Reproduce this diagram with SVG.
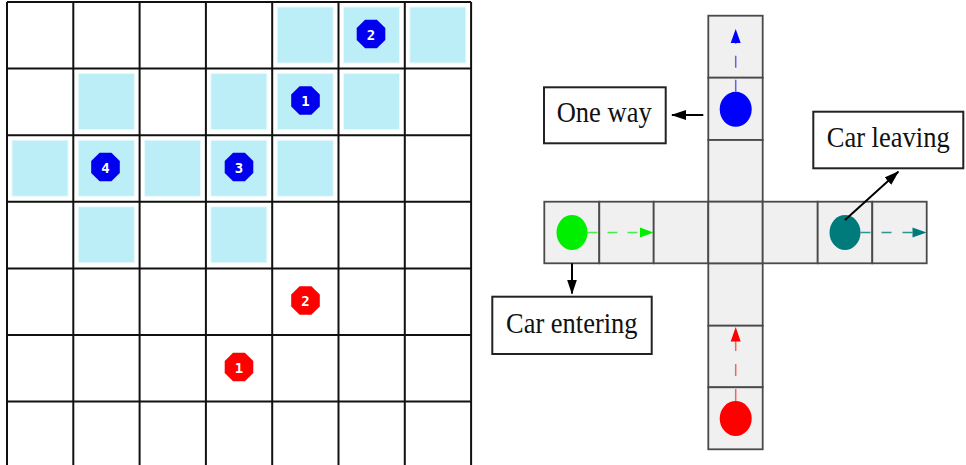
<svg xmlns="http://www.w3.org/2000/svg" width="966" height="465" viewBox="0 0 966 465">
<style>
.cellb{fill:#bbeef6;stroke:#e8f9fc;stroke-width:1}
.grid{stroke:#111;stroke-width:2;fill:none}
.oct-b{fill:#0000ee}
.oct-r{fill:#ff0000}
.octt{fill:#fff;font-family:"DejaVu Sans Mono",monospace;font-weight:bold;font-size:14px;text-anchor:middle}
.road{fill:#f0f0f0;stroke:#4a4a4a;stroke-width:1.8}
.lbl rect{fill:#fff;stroke:#222;stroke-width:2}
.lbl text{font-family:"Liberation Serif",serif;font-size:30px;fill:#111}
.blk{stroke:#000;stroke-width:2;fill:none}
</style>
<defs>
<polygon id="oct" points="14.3,5.9 5.9,14.3 -5.9,14.3 -14.3,5.9 -14.3,-5.9 -5.9,-14.3 5.9,-14.3 14.3,-5.9"/>
<marker id="ah" markerUnits="userSpaceOnUse" markerWidth="15" markerHeight="10" refX="14" refY="5" orient="auto">
<path d="M0,0 L15,5 L0,10 z" fill="#000"/>
</marker>
</defs>
<rect width="966" height="465" fill="#fff"/>

<g id="grid-map">
<g id="shaded-cells">
<rect class="cellb" x="277.2" y="7" width="56" height="56"/>
<rect class="cellb" x="343.5" y="7" width="56" height="56"/>
<rect class="cellb" x="409.8" y="7" width="56" height="56"/>
<rect class="cellb" x="78.3" y="73.6" width="56" height="56"/>
<rect class="cellb" x="210.9" y="73.6" width="56" height="56"/>
<rect class="cellb" x="277.2" y="73.6" width="56" height="56"/>
<rect class="cellb" x="343.5" y="73.6" width="56" height="56"/>
<rect class="cellb" x="12" y="140.2" width="56" height="56"/>
<rect class="cellb" x="78.3" y="140.2" width="56" height="56"/>
<rect class="cellb" x="144.6" y="140.2" width="56" height="56"/>
<rect class="cellb" x="210.9" y="140.2" width="56" height="56"/>
<rect class="cellb" x="277.2" y="140.2" width="56" height="56"/>
<rect class="cellb" x="78.3" y="206.8" width="56" height="56"/>
<rect class="cellb" x="210.9" y="206.8" width="56" height="56"/>
</g>
<path class="grid" d="M7,2 V470 M73.3,2 V470 M139.6,2 V470 M205.9,2 V470 M272.2,2 V470 M338.5,2 V470 M404.8,2 V470 M471.1,2 V470 M7,2 H471.1 M7,68.6 H471.1 M7,135.2 H471.1 M7,201.8 H471.1 M7,268.4 H471.1 M7,335 H471.1 M7,401.6 H471.1"/>
</g>

<g id="robot-b2" transform="translate(371,34)"><use href="#oct" class="oct-b"/><text class="octt" y="5.5">2</text></g>
<g id="robot-b1" transform="translate(305.5,100.5)"><use href="#oct" class="oct-b"/><text class="octt" y="5.5">1</text></g>
<g id="robot-b4" transform="translate(105.5,167)"><use href="#oct" class="oct-b"/><text class="octt" y="5.5">4</text></g>
<g id="robot-b3" transform="translate(239,167)"><use href="#oct" class="oct-b"/><text class="octt" y="5.5">3</text></g>
<g id="robot-r2" transform="translate(305.5,300.5)"><use href="#oct" class="oct-r"/><text class="octt" y="5.5">2</text></g>
<g id="robot-r1" transform="translate(239,367)"><use href="#oct" class="oct-r"/><text class="octt" y="5.5">1</text></g>

<g id="road">
<rect class="road" x="708.3" y="15.7" width="54.4" height="62"/>
<rect class="road" x="708.3" y="77.7" width="54.4" height="62.3"/>
<rect class="road" x="708.3" y="140" width="54.4" height="61.7"/>
<rect class="road" x="708.3" y="263.3" width="54.4" height="62.4"/>
<rect class="road" x="708.3" y="325.7" width="54.4" height="61.6"/>
<rect class="road" x="708.3" y="387.3" width="54.4" height="62"/>
<rect class="road" x="544.3" y="201.7" width="55" height="61.6"/>
<rect class="road" x="599.3" y="201.7" width="54.4" height="61.6"/>
<rect class="road" x="653.7" y="201.7" width="54.6" height="61.6"/>
<rect class="road" x="708.3" y="201.7" width="54.4" height="61.6"/>
<rect class="road" x="762.7" y="201.7" width="55" height="61.6"/>
<rect class="road" x="817.7" y="201.7" width="54.6" height="61.6"/>
<rect class="road" x="872.3" y="201.7" width="54.4" height="61.6"/>
</g>

<g id="car-blue">
<ellipse cx="735.7" cy="109.3" rx="16" ry="17.5" fill="#0000ff"/>
</g>
<g id="car-green">
<ellipse cx="572" cy="232.5" rx="15.5" ry="17.5" fill="#00ee00"/>
</g>
<g id="car-teal">
<ellipse cx="845" cy="232.5" rx="15.5" ry="17.5" fill="#007b7b"/>
</g>
<g id="car-red">
<ellipse cx="735.7" cy="418.5" rx="16" ry="17.5" fill="#ff0000"/>
</g>

<g id="label-oneway" class="lbl"><rect x="544" y="87.3" width="121.7" height="56"/><text x="556.7" y="122" textLength="95" lengthAdjust="spacingAndGlyphs">One way</text></g>
<g id="label-leaving" class="lbl"><rect x="813.3" y="111.7" width="150" height="56.6"/><text x="826.7" y="147" textLength="123" lengthAdjust="spacingAndGlyphs">Car leaving</text></g>
<g id="label-entering" class="lbl"><rect x="492.3" y="296.7" width="159.4" height="57.3"/><text x="506" y="332.5" textLength="131.5" lengthAdjust="spacingAndGlyphs">Car entering</text></g>

<g id="connectors">
<line x1="735.7" y1="91.8" x2="735.7" y2="43" stroke="#0000ff" stroke-opacity="0.6" stroke-width="1.5" stroke-dasharray="12,12"/>
<polygon points="735.7,29 730.7,43 740.7,43" fill="#0000ff"/>
<line x1="587.5" y1="232.5" x2="641" y2="232.5" stroke="#00ee00" stroke-opacity="0.7" stroke-width="1.5" stroke-dasharray="10,10"/>
<polygon points="653.5,232.5 640,227.5 640,237.5" fill="#00ee00"/>
<line x1="860.5" y1="232.5" x2="913" y2="232.5" stroke="#007b7b" stroke-opacity="0.8" stroke-width="1.5" stroke-dasharray="10,11"/>
<polygon points="926.5,232.5 912.5,227.5 912.5,237.5" fill="#007b7b"/>
<line x1="735.7" y1="401" x2="735.7" y2="341" stroke="#ff0000" stroke-opacity="0.6" stroke-width="1.5" stroke-dasharray="12,13"/>
<polygon points="735.7,327 730.7,341.5 740.7,341.5" fill="#ff0000"/>
<line class="blk" x1="703.3" y1="115" x2="672" y2="115" marker-end="url(#ah)"/>
<line class="blk" x1="572" y1="263.3" x2="572" y2="293.5" marker-end="url(#ah)"/>
<line class="blk" x1="845" y1="220" x2="898.3" y2="171.7" marker-end="url(#ah)"/>
</g>
</svg>
